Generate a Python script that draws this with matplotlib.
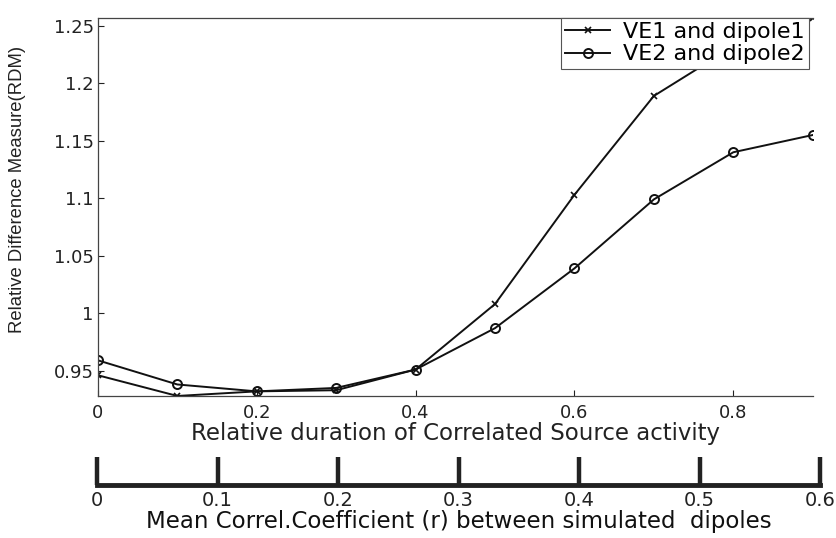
import numpy as np
import matplotlib
matplotlib.use('Agg')
import matplotlib.pyplot as plt

plt.rcParams['font.family'] = ['DejaVu Sans']

# relative duration of correlated source activity
duration = [0, 0.1, 0.2, 0.3, 0.4, 0.5, 0.6, 0.7, 0.8, 0.9]
# RDM for each virtual electrode / dipole pair
rdm_ve1 = [0.946, 0.928, 0.932, 0.933, 0.951, 1.008, 1.103, 1.189, 1.232, 1.257]
rdm_ve2 = [0.959, 0.938, 0.932, 0.935, 0.951, 0.987, 1.039, 1.099, 1.140, 1.155]

main_ticks = [0, 0.2, 0.4, 0.6, 0.8]
rdm_ticks = [0.95, 1.0, 1.05, 1.1, 1.15, 1.2, 1.25]
rdm_labels = ['0.95', '1', '1.05', '1.1', '1.15', '1.2', '1.25']

# secondary scale: mean correlation coefficient
corr_ticks = [0, 0.1, 0.2, 0.3, 0.4, 0.5, 0.6]

fig = plt.figure(figsize=(8.37, 5.38), dpi=100)

ax = fig.add_axes([0.117, 0.264, 0.854, 0.703])
ax.plot(duration, rdm_ve1, color='#111111', lw=1.4, marker='x', ms=5, mew=1.2,
        label='VE1 and dipole1')
ax.plot(duration, rdm_ve2, color='#111111', lw=1.4, marker='o', ms=6.5, mew=1.4,
        mfc='none', label='VE2 and dipole2')
ax.set_xlim(0, 0.9)
ax.set_ylim(min(rdm_ve1), max(rdm_ve1))
ax.set_xticks(main_ticks)
ax.set_xticklabels(['0', '0.2', '0.4', '0.6', '0.8'])
ax.set_yticks(rdm_ticks)
ax.set_yticklabels(rdm_labels)
ax.tick_params(direction='in', length=4, width=0.8, labelsize=13, colors='#222222')
ax.tick_params(axis='x', pad=6)
ax.tick_params(axis='y', pad=3)
ax.spines['right'].set_visible(False)
for s in ['left', 'top', 'bottom']:
    ax.spines[s].set_color('#444444')
    ax.spines[s].set_linewidth(0.9)
ax.set_xlabel('Relative duration of Correlated Source activity', fontsize=16.5,
              color='#222222', labelpad=0)
ax.set_ylabel('Relative Difference Measure(RDM)', fontsize=13.3, color='#222222',
              fontfamily='Liberation Sans')
ax.yaxis.set_label_coords(-0.10, 0.545)
leg = ax.legend(loc='upper right', bbox_to_anchor=(0.995, 1.0), fontsize=16,
                fancybox=False, framealpha=1, edgecolor='#555555',
                borderpad=0.2, labelspacing=0.1, handlelength=2.0,
                handletextpad=0.6, borderaxespad=0)
leg.get_frame().set_linewidth(0.8)

# lower scale drawn as a separate thick axis line
ax2 = fig.add_axes([0.116, 0.098, 0.864, 0.05])
ax2.set_xlim(0, 0.6)
ax2.set_ylim(0, 1)
ax2.set_xticks(corr_ticks)
ax2.set_xticklabels(['0', '0.1', '0.2', '0.3', '0.4', '0.5', '0.6'])
ax2.set_yticks([])
for s in ['left', 'right', 'top']:
    ax2.spines[s].set_visible(False)
ax2.spines['bottom'].set_linewidth(3.5)
ax2.spines['bottom'].set_color('#222222')
ax2.tick_params(axis='x', direction='in', length=20, width=3.2, colors='#222222',
                labelsize=14, pad=4)
ax2.set_xlabel('Mean Correl.Coefficient (r) between simulated  dipoles',
               fontsize=16.5, color='#111111', labelpad=0)

fig.savefig('out.png', dpi=100)
